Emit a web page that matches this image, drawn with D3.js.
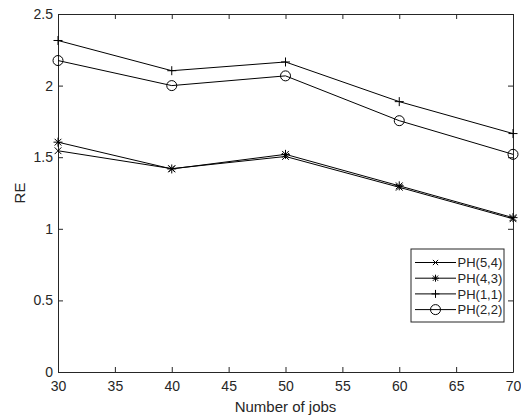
<!DOCTYPE html>
<html>
<head>
<meta charset="utf-8">
<script src="https://cdn.jsdelivr.net/npm/d3@7"></script>
<style>
  body { margin: 0; background: #fff; }
  text { font-family: "Liberation Sans", Arial, sans-serif; fill: #262626; }
</style>
</head>
<body>
<div id="chart"></div>
<script>
// jobs on the x axis
const jobs = [30, 40, 50, 60, 70];

// RE values per series
const ph54 = [1.545, 1.42, 1.505, 1.29, 1.07];
const ph43 = [1.605, 1.418, 1.52, 1.30, 1.078];
const ph11 = [2.315, 2.104, 2.165, 1.888, 1.665];
const ph22 = [2.175, 2.0, 2.068, 1.755, 1.52];

const seriesNames = ["PH(5,4)", "PH(4,3)", "PH(1,1)", "PH(2,2)"];
const seriesMarkers = ["x", "star", "plus", "circle"];

const xTicks = [30, 35, 40, 45, 50, 55, 60, 65, 70];
const yTicks = [0, 0.5, 1, 1.5, 2, 2.5];

const width = 521, height = 418;
const margin = { top: 14, right: 8, bottom: 46, left: 58 };

const series = [ph54, ph43, ph11, ph22].map((vals, i) => ({
  name: seriesNames[i],
  marker: seriesMarkers[i],
  points: vals.map((v, j) => ({ x: jobs[j], y: v }))
}));

const svg = d3.select("#chart")
  .append("svg")
  .attr("width", width)
  .attr("height", height);

const x = d3.scaleLinear().domain([30, 70]).range([margin.left, width - margin.right]);
const y = d3.scaleLinear().domain([0, 2.5]).range([height - margin.bottom, margin.top]);

const axisColor = "#262626";
const tickLen = 5;

// box + inward ticks on all four sides
const gx = svg.append("g")
  .attr("transform", `translate(0,${y(0)})`)
  .call(d3.axisBottom(x).tickValues(xTicks).tickSizeInner(-tickLen).tickSizeOuter(0).tickPadding(9));
const gxTop = svg.append("g")
  .attr("transform", `translate(0,${y(2.5)})`)
  .call(d3.axisTop(x).tickValues(xTicks).tickSizeInner(-tickLen).tickSizeOuter(0).tickFormat(""));
const gy = svg.append("g")
  .attr("transform", `translate(${x(30)},0)`)
  .call(d3.axisLeft(y).tickValues(yTicks).tickSizeInner(-tickLen).tickSizeOuter(0).tickPadding(5).tickFormat(d3.format("")));
const gyRight = svg.append("g")
  .attr("transform", `translate(${x(70)},0)`)
  .call(d3.axisRight(y).tickValues(yTicks).tickSizeInner(-tickLen).tickSizeOuter(0).tickFormat(""));

[gx, gxTop, gy, gyRight].forEach(g => {
  g.selectAll("path, line").attr("stroke", axisColor);
  g.selectAll("text")
    .style("font-family", '"Liberation Sans", Arial, sans-serif')
    .style("font-size", "14px")
    .attr("fill", axisColor);
});

// axis labels
svg.append("text")
  .attr("x", (x(30) + x(70)) / 2)
  .attr("y", 412)
  .attr("text-anchor", "middle")
  .style("font-size", "15px")
  .text("Number of jobs");

svg.append("text")
  .attr("transform", `translate(24.5,${(y(0) + y(2.5)) / 2}) rotate(-90)`)
  .attr("text-anchor", "middle")
  .style("font-size", "15px")
  .text("RE");

// marker drawing
function drawMarker(g, type, size) {
  const h = size / 2;
  if (type === "plus") {
    g.append("path").attr("d", `M${-h},0H${h}M0,${-h}V${h}`);
  } else if (type === "x") {
    const k = h * 0.75;
    g.append("path").attr("d", `M${-k},${-k}L${k},${k}M${-k},${k}L${k},${-k}`);
  } else if (type === "star") {
    const k = h * 0.75;
    g.append("path").attr("d", `M${-h},0H${h}M0,${-h}V${h}M${-k},${-k}L${k},${k}M${-k},${k}L${k},${-k}`);
  } else if (type === "circle") {
    g.append("circle").attr("r", h).attr("fill", "none");
  }
}

const line = d3.line().x(d => x(d.x)).y(d => y(d.y));

const sg = svg.selectAll(".series")
  .data(series)
  .enter()
  .append("g")
  .attr("class", "series");

sg.append("path")
  .attr("d", d => line(d.points))
  .attr("fill", "none")
  .attr("stroke", "#000")
  .attr("stroke-width", 1);

sg.each(function (d) {
  const g = d3.select(this);
  d.points.forEach(p => {
    const m = g.append("g")
      .attr("transform", `translate(${x(p.x)},${y(p.y)})`)
      .attr("stroke", "#000")
      .attr("stroke-width", 1)
      .attr("fill", "none");
    drawMarker(m, d.marker, d.marker === "circle" ? 10 : 9);
  });
});

// legend
const lg = svg.append("g").attr("transform", "translate(411,249)");
lg.append("rect")
  .attr("width", 93)
  .attr("height", 73)
  .attr("fill", "#fff")
  .attr("stroke", axisColor)
  .attr("stroke-width", 1);

series.forEach((s, i) => {
  const yy = 13.5 + i * 15.7;
  const row = lg.append("g").attr("transform", `translate(0,${yy})`);
  row.append("line")
    .attr("x1", 4).attr("x2", 45)
    .attr("stroke", "#000").attr("stroke-width", 1);
  const m = row.append("g")
    .attr("transform", "translate(24.5,0)")
    .attr("stroke", "#000")
    .attr("fill", "none");
  drawMarker(m, s.marker, s.marker === "circle" ? 10 : s.marker === "plus" ? 8 : 7);
  row.append("text")
    .attr("x", 46.5)
    .attr("y", 4.6)
    .style("font-size", "13px")
    .text(s.name);
});
</script>
</body>
</html>
